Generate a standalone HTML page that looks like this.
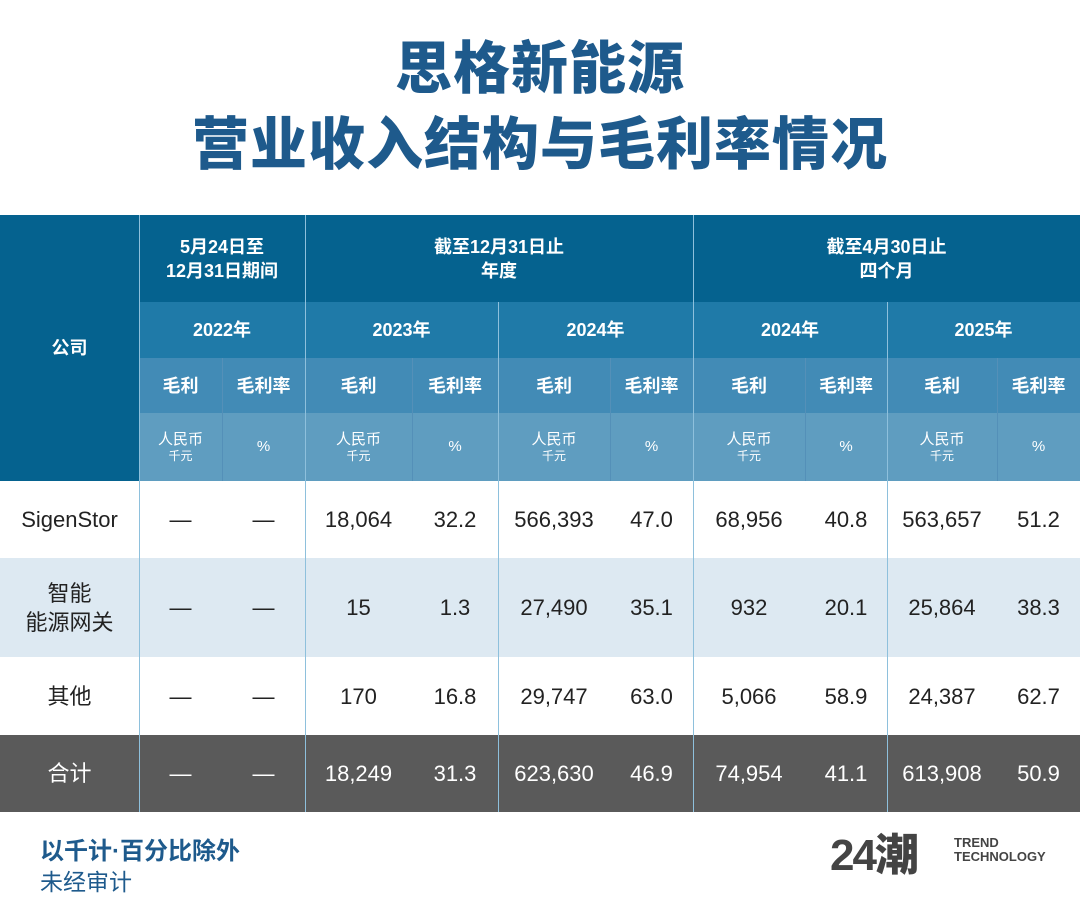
<!DOCTYPE html>
<html><head><meta charset="utf-8"><style>
*{margin:0;padding:0;box-sizing:border-box}
body{width:1080px;height:919px;background:#fff;position:relative;overflow:hidden;font-family:"Liberation Sans","Noto Sans CJK SC",sans-serif}
.t{position:absolute;left:0;width:1080px;text-align:center;color:#1e5a8c;font-weight:900;font-size:57px;letter-spacing:1px}
.c{position:absolute;display:flex;align-items:center;justify-content:center;text-align:center;color:#fff;font-weight:bold;font-size:18px;line-height:24px}
.b{color:#222;font-weight:normal;font-size:22px;line-height:29px}
.w{color:#fff;font-weight:normal;font-size:22px}
.v{position:absolute;width:1px;background:#8ec0dc}
.s{font-size:12px;line-height:14px;font-weight:normal;display:block}
.u{font-size:15px;font-weight:normal;line-height:18px;display:block}
</style></head><body>
<div class="t" style="top:36px;line-height:66px">思格新能源</div>
<div class="t" style="top:112px;line-height:66px">营业收入结构与毛利率情况</div>

<div style="position:absolute;left:0;top:215px;width:1080px;height:87px;background:#05628f"></div>
<div style="position:absolute;left:0;top:302px;width:1080px;height:56px;background:#1f7aa8"></div>
<div style="position:absolute;left:0;top:358px;width:1080px;height:55px;background:#428bb6"></div>
<div style="position:absolute;left:0;top:413px;width:1080px;height:68px;background:#5f9dc0"></div>
<div style="position:absolute;left:0;top:215px;width:139px;height:266px;background:#05628f"></div>
<div style="position:absolute;left:0;top:558px;width:1080px;height:99px;background:#dde9f2"></div>
<div style="position:absolute;left:0;top:735px;width:1080px;height:77px;background:#5a5a5a"></div>

<div class="v" style="left:139px;top:215px;height:597px"></div>
<div class="v" style="left:305px;top:215px;height:597px"></div>
<div class="v" style="left:693px;top:215px;height:597px"></div>
<div class="v" style="left:498px;top:302px;height:510px"></div>
<div class="v" style="left:887px;top:302px;height:510px"></div>
<div class="v" style="left:222px;top:358px;height:123px;background:#5490b8"></div>
<div class="v" style="left:412px;top:358px;height:123px;background:#5490b8"></div>
<div class="v" style="left:610px;top:358px;height:123px;background:#5490b8"></div>
<div class="v" style="left:805px;top:358px;height:123px;background:#5490b8"></div>
<div class="v" style="left:997px;top:358px;height:123px;background:#5490b8"></div>

<div class="c" style="left:0;top:215px;width:139px;height:266px">公司</div>
<div class="c" style="left:139px;top:215px;width:166px;height:87px">5月24日至<br>12月31日期间</div>
<div class="c" style="left:305px;top:215px;width:388px;height:87px">截至12月31日止<br>年度</div>
<div class="c" style="left:693px;top:215px;width:387px;height:87px">截至4月30日止<br>四个月</div>
<div class="c" style="left:139px;top:302px;width:166px;height:56px">2022年</div>
<div class="c" style="left:305px;top:302px;width:193px;height:56px">2023年</div>
<div class="c" style="left:498px;top:302px;width:195px;height:56px">2024年</div>
<div class="c" style="left:693px;top:302px;width:194px;height:56px">2024年</div>
<div class="c" style="left:887px;top:302px;width:193px;height:56px">2025年</div>

<div id="h"></div>
<script>
const cols=[139,222,305,412,498,610,693,805,887,997,1080];
let h='';
function cell(i,top,hgt,html,cls){h+=`<div class="c ${cls||''}" style="left:${cols[i]}px;top:${top}px;width:${cols[i+1]-cols[i]}px;height:${hgt}px">${html}</div>`;}
for(let i=0;i<10;i++){
 cell(i,358,55,i%2?'毛利率':'毛利');
 cell(i,413,68,i%2?'<span class="u">%</span>':'<span><span class="u">人民币</span><span class="s">千元</span></span>');
}
const rows=[[481,77,'SigenStor',['—','—','18,064','32.2','566,393','47.0','68,956','40.8','563,657','51.2']],
[558,99,'智能<br>能源网关',['—','—','15','1.3','27,490','35.1','932','20.1','25,864','38.3']],
[657,78,'其他',['—','—','170','16.8','29,747','63.0','5,066','58.9','24,387','62.7']],
[735,77,'合计',['—','—','18,249','31.3','623,630','46.9','74,954','41.1','613,908','50.9']]];
rows.forEach((r,k)=>{const cls=k==3?'b w':'b';
 h+=`<div class="c ${cls}" style="left:0;top:${r[0]}px;width:139px;height:${r[1]}px">${r[2]}</div>`;
 r[3].forEach((v,i)=>cell(i,r[0],r[1],v,cls));});
document.getElementById('h').outerHTML=h;
</script>

<div style="position:absolute;left:40px;top:837px;font-size:24px;color:#1e5a8c;font-weight:bold;line-height:30px">以千计·百分比除外</div>
<div style="position:absolute;left:40px;top:867px;font-size:23px;color:#1e5a8c;line-height:30px">未经审计</div>
<div style="position:absolute;left:830px;top:828px;font-size:44px;font-weight:900;color:#444;line-height:56px;letter-spacing:-2px">24潮</div>
<div style="position:absolute;left:954px;top:836px;font-size:13px;font-weight:bold;color:#444;line-height:14px">TREND<br>TECHNOLOGY</div>
</body></html>
